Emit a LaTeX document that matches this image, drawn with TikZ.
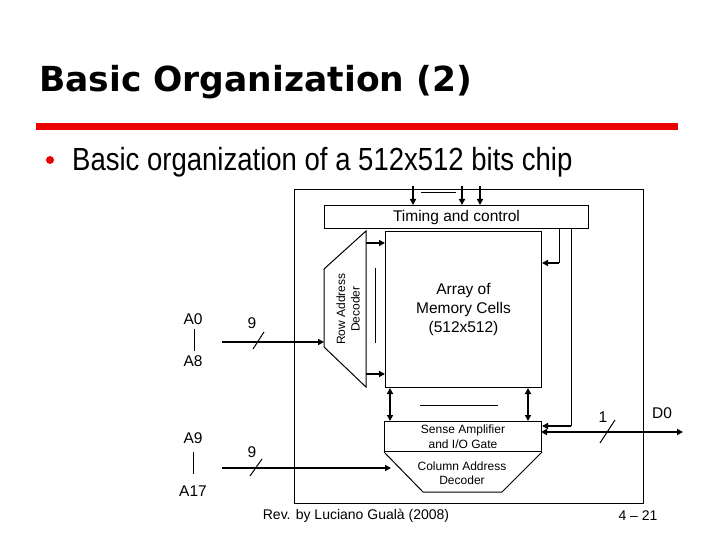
\documentclass[tikz,border=0pt]{standalone}
\usepackage{graphicx}
\usepackage{fontspec}
\setmainfont{Liberation Sans}
\newfontfamily\titlefont{DejaVu Sans}
\usetikzlibrary{arrows.meta}
\definecolor{barred}{RGB}{235,0,0}
\begin{document}
\begin{tikzpicture}[x=1pt,y=-1pt,
  box/.style={draw,line width=1pt,inner sep=0pt,align=center},
  thinline/.style={line width=1pt},
  sig/.style={line width=2.4pt,-{Triangle[length=6pt,width=6pt]}},
  dsig/.style={line width=2.4pt,{Triangle[length=6pt,width=6pt]}-{Triangle[length=6pt,width=6pt]}},
  lbl/.style={font=\fontsize{15.5}{19}\selectfont,inner sep=0pt,align=center},
  small/.style={font=\fontsize{12}{14.5}\selectfont,inner sep=0pt,align=center},
]
\useasboundingbox (0,0) rectangle (720,540);
\fill[white] (0,0) rectangle (720,540);

% title
\node[anchor=base west,inner sep=0pt] (title) at (39,92)
  {\titlefont\bfseries\fontsize{34.5}{40}\selectfont Basic Organization (2)};
\draw[barred,line width=7pt] (36,126.5) -- (678,126.5);
\fill[barred] (50,160) circle (4);
\node[anchor=base west,inner sep=0pt] (bullet) at (72,171)
  {\scalebox{0.86}[1]{\fontsize{32}{36}\selectfont Basic organization of a 512x512 bits chip}};

% chip outline
\node[box,anchor=north west,minimum width=349,minimum height=314] (chip) at (294,189) {};

% timing and control
\node[box,lbl,anchor=north west,minimum width=264,minimum height=23] (tc) at (324,205) {Timing and control};
\draw[sig] (413,186) -- (413,0 |- tc.north);
\draw[sig] (462,186) -- (462,0 |- tc.north);
\draw[sig] (480,186) -- (480,0 |- tc.north);
\draw[thinline] (421,193) -- (456,193);

% array
\node[box,lbl,anchor=north west,minimum width=156,minimum height=156] (arr) at (385,231) {Array of\\Memory Cells\\(512x512)};

% row address decoder
\draw[thinline] (324,269) -- (366,231) -- (366,387) -- (324,347) -- cycle;
\node[small,rotate=90] (rad) at (348,309) {Row Address\\Decoder};
\draw[sig] (366,243) -- (366,243 -| arr.west);
\draw[sig] (366,374) -- (366,374 -| arr.west);
\draw[thinline] (375,268) -- (375,343);

% sense amplifier and column decoder
\node[box,small,anchor=north west,minimum width=157,minimum height=30] (sa) at (384,421) {Sense Amplifier\\and I/O Gate};
\draw[thinline] (sa.south west) -- (423,492) -- (502,492) -- (sa.south east);
\node[small] (cad) at (462,473) {Column Address\\Decoder};
\draw[dsig] (390,0 |- arr.south) -- (390,0 |- sa.north);
\draw[dsig] (528,0 |- arr.south) -- (528,0 |- sa.north);
\draw[thinline] (420,405) -- (498,405);

% control lines on the right
\draw[thinline] (559,0 |- tc.south) -- (559,263);
\draw[sig] (559,263) -- (559,263 -| arr.east);
\draw[thinline] (571,0 |- tc.south) -- (571,426);
\draw[sig] (571,426) -- (571,426 -| sa.east);

% data line
\coordinate (dout) at (683,432);
\draw[dsig] (541,432) -- (dout);
\draw[thinline] (600,443) -- (615,420);
\node[lbl] (one) at (603,417) {1};
\node[lbl] (d0) at (662,413) {D0};

% row address input
\node[lbl] (a0) at (193,319) {A0};
\node[lbl] (a8) at (193,361) {A8};
\draw[thinline] (194,329) -- (194,351);
\coordinate (rin) at (222,342);
\draw[line width=2.6pt,-{Triangle[length=6pt,width=6pt]}] (rin) -- (324,342);
\draw[thinline] (253,349) -- (264,332);
\node[lbl] (n9a) at (252,323) {9};

% column address input
\node[lbl] (a9) at (193,438) {A9};
\node[lbl] (a17) at (193,491) {A17};
\draw[thinline] (193,452) -- (193,474);
\coordinate (cin) at (222,468);
\draw[line width=2.6pt,-{Triangle[length=6pt,width=6pt]}] (cin) -- (391,468);
\draw[thinline] (250,476) -- (262,459);
\node[lbl] (n9b) at (252,452) {9};

% footer
\node[inner sep=0pt,font=\fontsize{14}{16}\selectfont] (rev) at (356,516) {Rev. by Luciano Gualà (2008)};
\node[inner sep=0pt,font=\fontsize{14}{16}\selectfont] (page) at (638,516) {4 – 21};
\end{tikzpicture}
\end{document}
